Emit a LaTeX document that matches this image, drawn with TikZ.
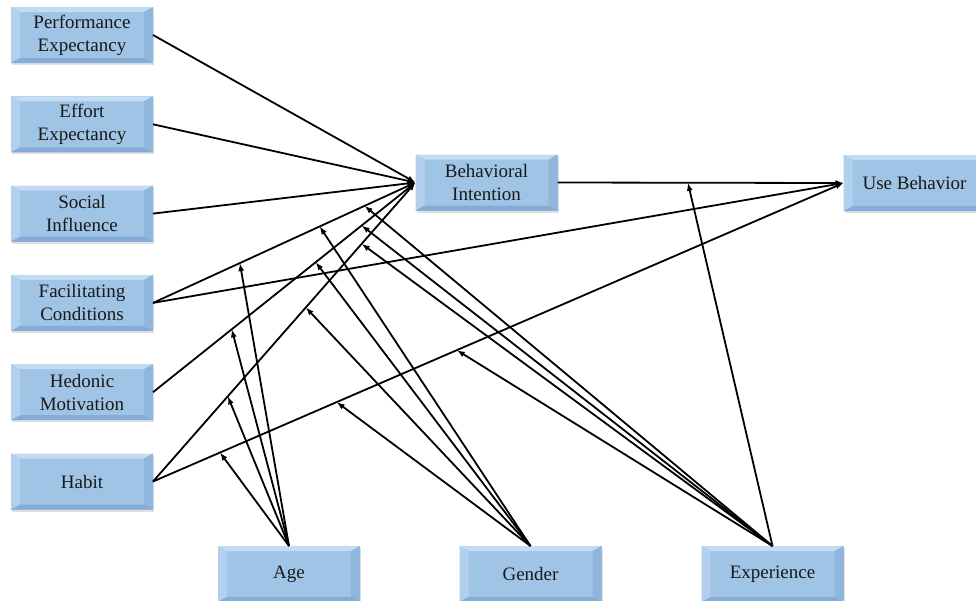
\documentclass[tikz,border=0pt]{standalone}
\usepackage{fontspec}
\setmainfont{Liberation Serif}
\newfontfamily\boxfont{Liberation Serif}
\usetikzlibrary{arrows.meta,shadows}
\definecolor{boxfill}{RGB}{160,196,230}
\definecolor{bvtop}{RGB}{196,220,242}
\definecolor{bvleft}{RGB}{178,208,237}
\definecolor{bvright}{RGB}{143,183,222}
\definecolor{bvbottom}{RGB}{132,172,214}
\definecolor{boxtext}{RGB}{25,25,25}

\begin{document}
\begin{tikzpicture}[x=1pt,y=-1pt,
  box/.style={fill=boxfill,minimum width=142pt,minimum height=56pt,inner sep=0pt,outer sep=0pt,
    align=center,text=boxtext,font={\boxfont\fontsize{19}{23}\selectfont},
    drop shadow={shadow xshift=1pt,shadow yshift=-2pt,opacity=0.25},
    path picture={
      \fill[bvtop] (path picture bounding box.north west) -- (path picture bounding box.north east)
        -- ([shift={(-9pt,-5pt)}]path picture bounding box.north east) -- ([shift={(9pt,-5pt)}]path picture bounding box.north west) -- cycle;
      \fill[bvleft] (path picture bounding box.north west) -- ([shift={(9pt,-5pt)}]path picture bounding box.north west)
        -- ([shift={(9pt,5pt)}]path picture bounding box.south west) -- (path picture bounding box.south west) -- cycle;
      \fill[bvright] (path picture bounding box.north east) -- ([shift={(-9pt,-5pt)}]path picture bounding box.north east)
        -- ([shift={(-9pt,5pt)}]path picture bounding box.south east) -- (path picture bounding box.south east) -- cycle;
      \fill[bvbottom] (path picture bounding box.south west) -- ([shift={(9pt,5pt)}]path picture bounding box.south west)
        -- ([shift={(-9pt,5pt)}]path picture bounding box.south east) -- (path picture bounding box.south east) -- cycle;
    }},
  link/.style={line width=1.8pt,-{Latex[length=8pt,width=6pt]}}]
\useasboundingbox (0,0) rectangle (976,600);

\node[box] (pe) at (82,35) {Performance\\Expectancy};
\node[box] (ee) at (82,124.3) {Effort\\Expectancy};
\node[box] (si) at (82,213.6) {Social\\Influence};
\node[box] (fc) at (82,302.9) {Facilitating\\Conditions};
\node[box] (hm) at (82,392.2) {Hedonic\\Motivation};
\node[box] (hab) at (82,481.5) {Habit};
\node[box] (bi) at (486.5,182.5) {Behavioral\\Intention};
\node[box] (ub) at (914.5,183) {Use Behavior};
\node[box] (age) at (289,574) {Age};
\node[box] (gen) at (530.5,574) {Gender};
\node[box] (exp) at (772.5,574) {Experience};

\draw[link] (pe.east) -- (bi.west);
\draw[link] (ee.east) -- (bi.west);
\draw[link] (si.east) -- (bi.west);
\draw[link] (fc.east) -- coordinate[pos=0.331] (fcbiA) coordinate[pos=0.635] (fcbiG) coordinate[pos=0.806] (fcbiE) (bi.west);
\draw[link] (fc.east) -- (ub.west);
\draw[link] (hm.east) -- coordinate[pos=0.30] (hmbiA) coordinate[pos=0.62] (hmbiG) coordinate[pos=0.795] (hmbiE) (bi.west);
\draw[link] (hab.east) -- coordinate[pos=0.285] (habbiA) coordinate[pos=0.582] (habbiG) coordinate[pos=0.795] (habbiE) (bi.west);
\draw[link] (hab.east) -- coordinate[pos=0.097] (habubA) coordinate[pos=0.266] (habubG) coordinate[pos=0.44] (habubE) (ub.west);
\draw[link] (bi.east) -- coordinate[pos=0.456] (biubE) (ub.west);

\foreach \m in {fcbiA,hmbiA,habbiA,habubA}{
\draw[link] (age.north) -- (\m);
}
\foreach \m in {fcbiG,hmbiG,habbiG,habubG}{
\draw[link] (gen.north) -- (\m);
}
\foreach \m in {fcbiE,hmbiE,habbiE,habubE,biubE}{
\draw[link] (exp.north) -- (\m);
}
\end{tikzpicture}
\end{document}
